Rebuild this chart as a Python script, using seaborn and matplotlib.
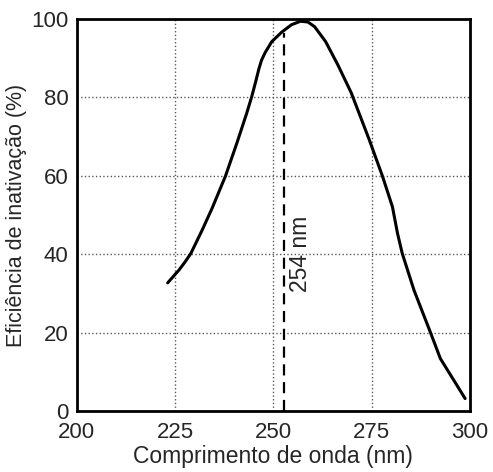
import pandas as pd
import matplotlib
matplotlib.use('Agg')
import matplotlib.pyplot as plt
import seaborn as sns

# --------------------------------------------------
# Data
# --------------------------------------------------
wavelength = [223.1, 224.5, 226.0, 227.5, 229.0, 231.9, 234.4, 237.8, 240.7,
              243.2, 244.5, 245.5, 246.3, 247.0, 247.9, 249.6, 252.1, 254.6,
              256.9, 258.8, 260.5, 263.3, 266.4, 269.8, 274.4, 277.8, 280.3,
              281.6, 282.8, 285.8, 290.0, 292.5, 295.9, 298.8]
efficiency = [32.7, 34.3, 36.0, 38.0, 40.2, 46.2, 51.7, 59.9, 68.3,
              75.9, 80.2, 84.0, 87.2, 89.5, 91.4, 94.2, 96.6, 98.5,
              99.4, 99.2, 98.0, 94.2, 88.3, 81.2, 69.2, 59.8, 52.1,
              45.3, 40.2, 30.8, 20.0, 13.4, 7.9, 3.2]

marker_nm = 252.8
marker_top = 96.4
marker_label = '254 nm'

x_ticks = [200, 225, 250, 275, 300]
y_ticks = [0, 20, 40, 60, 80, 100]

df = pd.DataFrame({'wavelength': wavelength, 'efficiency': efficiency})

# --------------------------------------------------
# Plot
# --------------------------------------------------
sns.set_style('white')
plt.rcParams['font.family'] = ['Liberation Sans', 'DejaVu Sans']

fig = plt.figure(figsize=(4.93, 4.72), dpi=100)
ax = fig.add_axes([0.156, 0.129, 0.797, 0.831])

sns.lineplot(data=df, x='wavelength', y='efficiency', ax=ax,
             color='black', linewidth=2.2, sort=False)

ax.plot([marker_nm, marker_nm], [0, marker_top],
        color='black', linewidth=1.6, linestyle=(0, (5, 3)))
ax.text(marker_nm + 4.2, 40, marker_label, rotation=90,
        ha='center', va='center', fontsize=16.5)

ax.set_xlim(200, 300)
ax.set_ylim(0, 100)
ax.set_xticks(x_ticks)
ax.set_yticks(y_ticks)
ax.grid(True, linestyle=':', color='0.35', linewidth=1)

for s in ax.spines.values():
    s.set_linewidth(2)
    s.set_color('black')

ax.tick_params(length=0, labelsize=16)
ax.tick_params(axis='x', pad=8)
ax.tick_params(axis='y', pad=6)
ax.set_xlabel('Comprimento de onda (nm)', fontsize=16.5, labelpad=1)
ax.set_ylabel('Eficiência de inativação (%)', fontsize=15.5, labelpad=3)

fig.savefig('out.png', dpi=100)
